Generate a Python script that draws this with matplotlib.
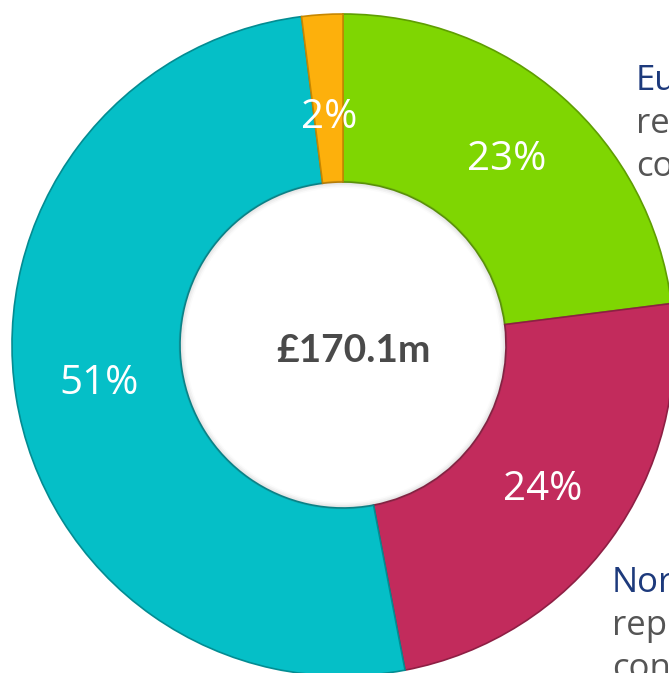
import numpy as np
import matplotlib
matplotlib.use('Agg')
import matplotlib.pyplot as plt
from matplotlib.patches import Circle

# segment data (clockwise from 12 o'clock)
segments = ['Europe', 'North America', 'Rest', 'Other']
shares = [23, 24, 51, 2]
colours = ['#7fd602', '#c22b5c', '#05bfc7', '#fdb00c']
edges = ['#5f9e02', '#8e1f44', '#038c92', '#c78700']

total_label = '£170.1m'

# cropped side captions (only what is visible in the frame)
top_lines = ['Eu', 're', 'co']
bottom_lines = ['Nor', 'rep', 'con']

W, H = 669, 673
cx, cy = 343, H - 345
r_out = 331
r_in = 163


def main():
    fig = plt.figure(figsize=(W / 100, H / 100), dpi=100)
    ax = fig.add_axes([0, 0, 1, 1])

    wedges, _, pcts = ax.pie(
        shares, colors=colours, startangle=90, counterclock=False,
        center=(cx, cy), radius=r_out,
        autopct='%d%%', pctdistance=(r_out + r_in) / 2 / r_out,
        wedgeprops=dict(width=r_out - r_in, linewidth=1.2),
        textprops=dict(color='white', fontsize=29, family=['Open Sans', 'DejaVu Sans']),
        frame=True,
    )
    ax.set_xlim(0, W)
    ax.set_ylim(0, H)
    ax.set_aspect('equal')
    ax.axis('off')
    for w, e in zip(wedges, edges):
        w.set_edgecolor(e)

    # the small slice's label sits a bit nearer the hole
    px, py = pcts[3].get_position()
    k = 0.92
    pcts[3].set_position((cx + (px - cx) * k, cy + (py - cy) * k))

    # soft shading on the inner rim of the hole
    for i, a in enumerate([0.10, 0.07, 0.04, 0.02]):
        ax.add_patch(Circle((cx, cy), r_in - i * 1.5, fill=False,
                            edgecolor='#404040', linewidth=2, alpha=a, zorder=3))

    ax.text(353, H - 350, total_label, ha='center', va='center',
            fontsize=28, fontweight='bold', color='#4a4a4a',
            family=['Lato', 'DejaVu Sans'])

    caption_font = ['Open Sans', 'DejaVu Sans']
    for i, s in enumerate(top_lines):
        ax.text(636, H - (90 + 43 * i), s, ha='left', va='baseline',
                fontsize=25, color='#1d3a7c' if i == 0 else '#555555',
                family=caption_font)
    for i, s in enumerate(bottom_lines):
        ax.text(612, H - (592 + 43 * i), s, ha='left', va='baseline',
                fontsize=25, color='#1d3a7c' if i == 0 else '#555555',
                family=caption_font)

    fig.savefig('out.png', dpi=100)


if __name__ == "__main__":
    main()
